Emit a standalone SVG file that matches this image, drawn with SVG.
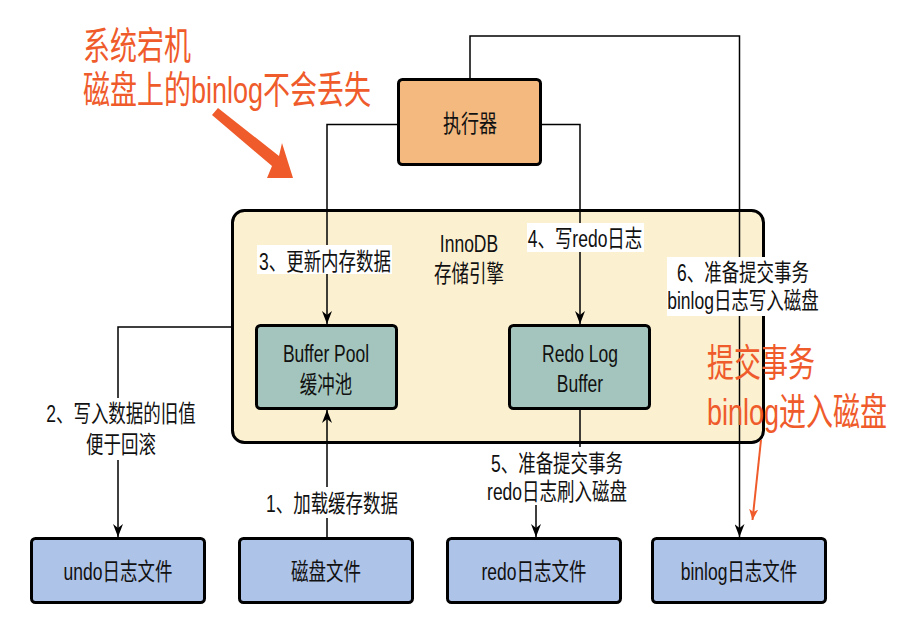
<svg xmlns="http://www.w3.org/2000/svg" width="898" height="620" viewBox="0 0 898 620">
<style>
.box{stroke:#000;stroke-width:3}
.exec{fill:#F3B97F}
.cont{fill:#FBF0D0}
.mem{fill:#A3C5BD}
.file{fill:#AEC3E8}
.ln{fill:none;stroke:#000;stroke-width:1.5}
.bg{fill:#fff}
.t{font-family:"Liberation Sans","Noto Sans CJK SC",sans-serif;font-size:17.5px;fill:#111;text-anchor:middle;dominant-baseline:central}
.r{font-family:"Liberation Sans","Noto Sans CJK SC",sans-serif;font-size:27px;fill:#EF5B2B;dominant-baseline:central}
</style>
<defs>
<marker id="ah" viewBox="0 0 13 10" refX="13" refY="5" markerWidth="13" markerHeight="10" markerUnits="userSpaceOnUse" orient="auto">
<path d="M0,0 L13,5 L0,10 L4,5 Z" fill="#000"/>
</marker>
<marker id="rah" viewBox="0 0 12 10" refX="12" refY="5" markerWidth="11" markerHeight="9" markerUnits="userSpaceOnUse" orient="auto">
<path d="M0,0 L12,5 L0,10 L3,5 Z" fill="#EF5B2B"/>
</marker>
</defs>
<rect width="898" height="620" fill="#fff"/>

<g id="innodb">
<rect class="box cont" x="232.5" y="210.5" width="531" height="232" rx="12"/>
<text class="t" transform="translate(469,243) scale(1,1.35)">InnoDB</text>
<text class="t" transform="translate(469,273) scale(1,1.35)">存储引擎</text>
</g>

<g id="connectors">
<path class="ln" d="M398,124.5 H327 V324" marker-end="url(#ah)"/>
<path class="ln" d="M541,124.5 H580 V324" marker-end="url(#ah)"/>
<path class="ln" d="M470,78 V36 H739.5 V537" marker-end="url(#ah)"/>
<path class="ln" d="M232,327 H118 V537" marker-end="url(#ah)"/>
<path class="ln" d="M327,537 V410" marker-end="url(#ah)"/>
<path class="ln" d="M580,410 V476 H536 V537" marker-end="url(#ah)"/>
<g id="label3"><rect class="bg" x="257" y="245" width="135" height="29"/><text class="t" transform="translate(325,261) scale(1,1.35)">3、更新内存数据</text></g>
<g id="label4"><rect class="bg" x="527" y="223" width="117" height="29"/><text class="t" transform="translate(585,238) scale(1,1.35)">4、写redo日志</text></g>
<g id="label6"><rect class="bg" x="667" y="257" width="153" height="59"/><text class="t" transform="translate(743,272) scale(1,1.35)">6、准备提交事务</text><text class="t" transform="translate(743,300) scale(1,1.35)">binlog日志写入磁盘</text></g>
<g id="label2"><rect class="bg" x="43" y="398" width="156" height="62"/><text class="t" transform="translate(121,413) scale(1,1.35)">2、写入数据的旧值</text><text class="t" transform="translate(121,444) scale(1,1.35)">便于回滚</text></g>
<g id="label1"><rect class="bg" x="263" y="487" width="137" height="31"/><text class="t" transform="translate(332,503) scale(1,1.35)">1、加载缓存数据</text></g>
<g id="label5"><rect class="bg" x="490" y="447" width="134" height="58"/><text class="t" transform="translate(557,463) scale(1,1.35)">5、准备提交事务</text><text class="t" transform="translate(557,491) scale(1,1.35)">redo日志刷入磁盘</text></g>
</g>

<g id="executor">
<rect class="box exec" x="398.5" y="79.5" width="142" height="85" rx="4"/>
<text class="t" style="font-size:18px" transform="translate(470,124) scale(1,1.35)">执行器</text>
</g>
<g id="bufferpool">
<rect class="box mem" x="256.5" y="325.5" width="140" height="83" rx="4"/>
<text class="t" transform="translate(326,353) scale(1,1.35)">Buffer Pool</text>
<text class="t" transform="translate(326,384) scale(1,1.35)">缓冲池</text>
</g>
<g id="redologbuffer">
<rect class="box mem" x="509.5" y="325.5" width="140" height="83" rx="4"/>
<text class="t" transform="translate(580,353) scale(1,1.35)">Redo Log</text>
<text class="t" transform="translate(580,383) scale(1,1.35)">Buffer</text>
</g>
<g id="undofile">
<rect class="box file" x="31.5" y="538.5" width="173" height="64" rx="4"/>
<text class="t" transform="translate(118,571) scale(1,1.35)">undo日志文件</text>
</g>
<g id="diskfile">
<rect class="box file" x="239.5" y="538.5" width="173" height="64" rx="4"/>
<text class="t" transform="translate(326,571) scale(1,1.35)">磁盘文件</text>
</g>
<g id="redofile">
<rect class="box file" x="447.5" y="538.5" width="173" height="64" rx="4"/>
<text class="t" transform="translate(534,571) scale(1,1.35)">redo日志文件</text>
</g>
<g id="binlogfile">
<rect class="box file" x="652.5" y="538.5" width="173" height="64" rx="4"/>
<text class="t" transform="translate(739,571) scale(1,1.35)">binlog日志文件</text>
</g>

<g id="annotations">
<text class="r" transform="translate(83,46) scale(1,1.4)">系统宕机</text>
<text class="r" transform="translate(83,90) scale(1,1.4)">磁盘上的binlog不会丢失</text>
<path d="M218,108 L279,156 L282,143 L293,178 L267,178 L272,166 L212,115 Z" fill="#EF5B2B"/>
<text class="r" transform="translate(707,363) scale(1,1.4)">提交事务</text>
<text class="r" transform="translate(707,412) scale(1,1.4)">binlog进入磁盘</text>
<path d="M761,440 L752.5,520" fill="none" stroke="#EF5B2B" stroke-width="2" marker-end="url(#rah)"/>
</g>
</svg>
